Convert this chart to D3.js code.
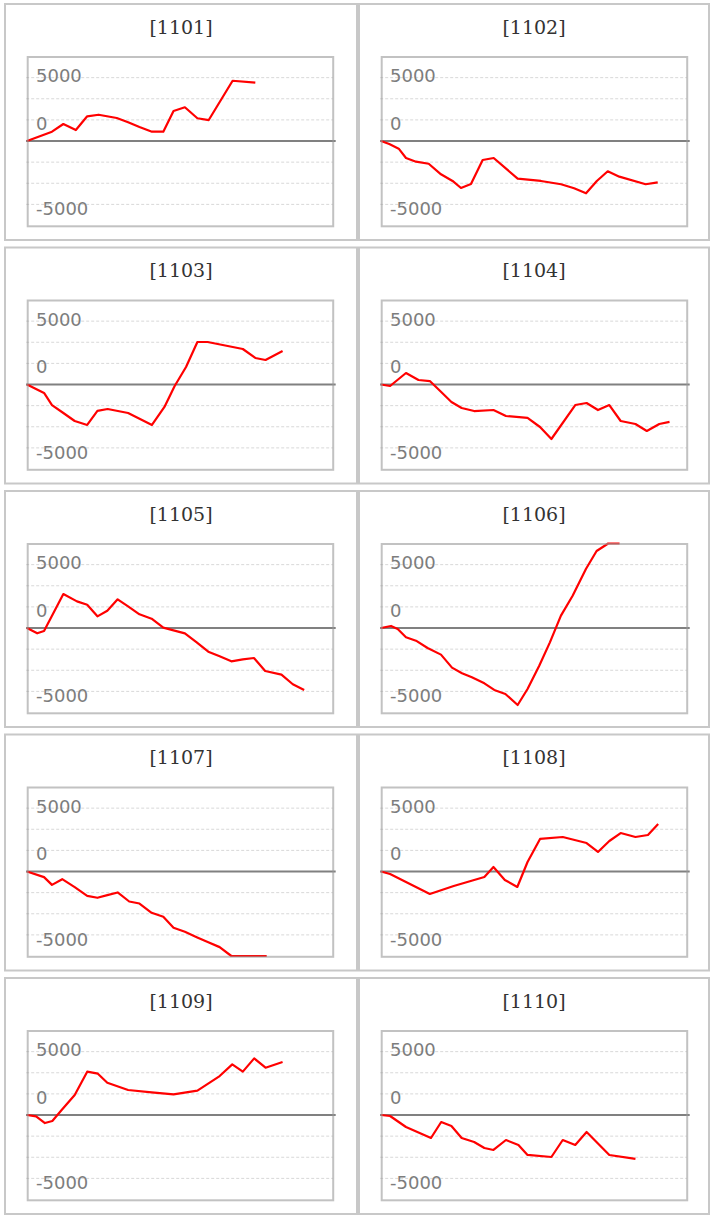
<!DOCTYPE html>
<html>
<head>
<meta charset="utf-8">
<script src="https://cdn.jsdelivr.net/npm/d3@7"></script>
<style>
html,body{margin:0;padding:0;background:#fff;}
svg{display:block;}
</style>
</head>
<body>
<svg id="chart" width="716" height="1215"></svg>
<script>
// ---- data: [day index, cumulative value] ----
const panelNames = ["[1101]","[1102]","[1103]","[1104]","[1105]","[1106]","[1107]","[1108]","[1109]","[1110]"];
const s1101 = [[0,0],[2.2,1100],[3.2,2010],[4.3,1300],[5.3,2920],[6.3,3110],[7.9,2720],[8.9,2210],[9.9,1660],[11.0,1100],[12.0,1100],[12.9,3550],[13.9,3990],[15.0,2690],[16.0,2480],[18.1,7130],[20.1,6900]];
const s1102 = [[0,0],[0.73,-355],[1.56,-910],[2.2,-2010],[3.08,-2450],[4.2,-2690],[5.28,-3940],[6.3,-4730],[7.04,-5560],[7.92,-5090],[8.95,-2250],[9.92,-2010],[12.03,-4460],[14.08,-4730],[15.85,-5120],[17.0,-5600],[18.05,-6190],[19.0,-4730],[19.96,-3580],[20.98,-4220],[23.3,-5120],[24.36,-4890]];
const s1103 = [[0,0],[1.5,-1000],[2.2,-2430],[3.2,-3370],[4.2,-4320],[5.3,-4790],[6.2,-3130],[7.1,-2900],[8.9,-3370],[11.0,-4790],[12.1,-2660],[13.0,-180],[14.0,2070],[15.0,5030],[15.9,5030],[19.0,4200],[20.1,3140],[21.0,2900],[22.5,3960]];
const s1104 = [[0,0],[0.8,-180],[2.2,1360],[3.3,530],[4.3,410],[5.3,-890],[6.2,-2070],[7.1,-2780],[8.2,-3140],[9.9,-3020],[11.0,-3730],[12.9,-3960],[14.0,-5030],[15.0,-6450],[17.1,-2430],[18.1,-2190],[19.1,-3020],[20.1,-2430],[21.1,-4320],[22.4,-4670],[23.4,-5500],[24.5,-4670],[25.4,-4430]];
const s1105 = [[0,0],[0.9,-630],[1.5,-355],[3.2,4020],[4.4,3150],[5.3,2760],[6.2,1380],[7.07,2050],[7.98,3390],[8.9,2560],[9.9,1620],[10.97,1100],[12.0,40],[12.9,-280],[13.9,-630],[14.94,-1700],[15.96,-2800],[16.96,-3350],[17.99,-3940],[19.0,-3710],[19.98,-3550],[20.97,-5090],[22.4,-5520],[23.4,-6660],[24.4,-7330]];
const s1106 = [[0,0],[0.88,240],[1.47,-120],[2.2,-1100],[3.08,-1500],[4.1,-2370],[5.28,-3150],[6.25,-4690],[7.13,-5360],[8.0,-5840],[9.1,-6550],[9.97,-7330],[10.95,-7810],[12.03,-9110],[12.9,-7220],[13.93,-4460],[14.87,-1700],[15.84,1460],[16.87,3820],[18.04,6980],[18.98,9110],[20.0,10400],[21.0,11500]];
const s1107 = [[0,0],[1.5,-670],[2.2,-1580],[3.1,-910],[4.2,-1850],[5.3,-2880],[6.2,-3110],[7.07,-2800],[7.98,-2480],[9.0,-3550],[9.9,-3790],[10.97,-4890],[12.0,-5360],[12.9,-6660],[13.9,-7140],[14.94,-7770],[15.96,-8360],[16.96,-8950],[17.99,-10020],[19.0,-10800],[20.0,-11200],[21.1,-11600]];
const s1108 = [[0,0],[0.8,-300],[2.9,-1720],[4.3,-2660],[6.4,-1720],[9.1,-650],[9.9,530],[10.9,-1000],[12.0,-1830],[12.9,1120],[14.0,3850],[16.0,4080],[18.1,3370],[19.1,2310],[20.1,3610],[21.1,4550],[22.4,4080],[23.5,4320],[24.4,5620]];
const s1109 = [[0,0],[0.8,-160],[1.58,-950],[2.23,-710],[3.05,590],[4.2,2370],[5.3,5130],[6.24,4890],[7.07,3820],[8.9,2960],[10.97,2680],[12.9,2440],[15.0,2880],[16.96,4610],[18.07,5990],[19.0,5130],[20.0,6700],[21.0,5600],[22.5,6270]];
const s1110 = [[0,0],[0.8,-120],[2.2,-1420],[4.4,-2720],[5.3,-830],[6.2,-1300],[7.1,-2720],[8.2,-3190],[9.1,-3900],[9.9,-4140],[11.0,-2960],[12.1,-3550],[12.9,-4730],[15.0,-4970],[16.0,-2960],[17.1,-3550],[18.1,-2010],[20.1,-4730],[22.4,-5200]];
const seriesList = [s1101,s1102,s1103,s1104,s1105,s1106,s1107,s1108,s1109,s1110];
const gridValues = [-7500,-5000,-2500,2500,5000,7500];
const tickLabels = ["5000","0","-5000"];
const tickLabelAnchors = [8000,2400,-7700];
const xDomain = [0,27];
const yDomain = [-10000,10000];

// ---- drawing ----
const svg = d3.select("#chart");
svg.append("rect").attr("width",716).attr("height",1215).attr("fill","#fff");

panelNames.forEach((name,i)=>{
  const col = i%2, row = Math.floor(i/2);
  const px = col===0 ? 5 : 359;
  const pw = col===0 ? 352 : 350;
  const top = 4 + row*243.5;
  const g = svg.append("g");

  g.append("rect").attr("x",px).attr("y",top).attr("width",pw).attr("height",236)
    .attr("fill","#fff").attr("stroke","#c8c8c8").attr("stroke-width",2);

  g.append("text").attr("x",px+pw/2).attr("y",top+29.5).attr("text-anchor","middle")
    .attr("font-family","DejaVu Serif, serif").attr("font-size",19).attr("fill","#333")
    .text(name);

  const plotLeft = px + 22.7;
  const x = d3.scaleLinear().domain(xDomain).range([plotLeft-0.7, plotLeft-0.7+306.7]);
  const y = d3.scaleLinear().domain(yDomain).range([top+221.5, top+52.5]).clamp(true);

  // gridlines
  g.selectAll(".grid").data(gridValues).enter().append("line")
    .attr("x1",plotLeft-1.5).attr("x2",plotLeft+305)
    .attr("y1",d=>y(d)).attr("y2",d=>y(d))
    .attr("stroke","#d8d8d8").attr("stroke-width",1).attr("stroke-dasharray","3,2");

  // tick labels
  g.selectAll(".tl").data(tickLabels).enter().append("text")
    .attr("x",plotLeft+8.3).attr("y",(d,k)=>y(tickLabelAnchors[k])+9)
    .attr("font-family","DejaVu Sans, Verdana, sans-serif").attr("font-size",18)
    .attr("fill","#7d7d7d").text(d=>d);

  // zero line
  g.append("line").attr("x1",plotLeft-1.7).attr("x2",plotLeft+308)
    .attr("y1",y(0)).attr("y2",y(0)).attr("stroke","#808080").attr("stroke-width",2);

  // series line
  const line = d3.line().x(d=>x(d[0])).y(d=>y(d[1]));
  g.append("path").datum(seriesList[i]).attr("d",line)
    .attr("fill","none").attr("stroke","#ff0000").attr("stroke-width",2.2)
    .attr("stroke-linejoin","round");

  // plot frame (drawn over the line)
  g.append("rect").attr("x",plotLeft).attr("y",top+53).attr("width",305.5).attr("height",169.3)
    .attr("fill","none").attr("stroke","#9a9a9a").attr("stroke-opacity",0.6).attr("stroke-width",2);
});
</script>
</body>
</html>
